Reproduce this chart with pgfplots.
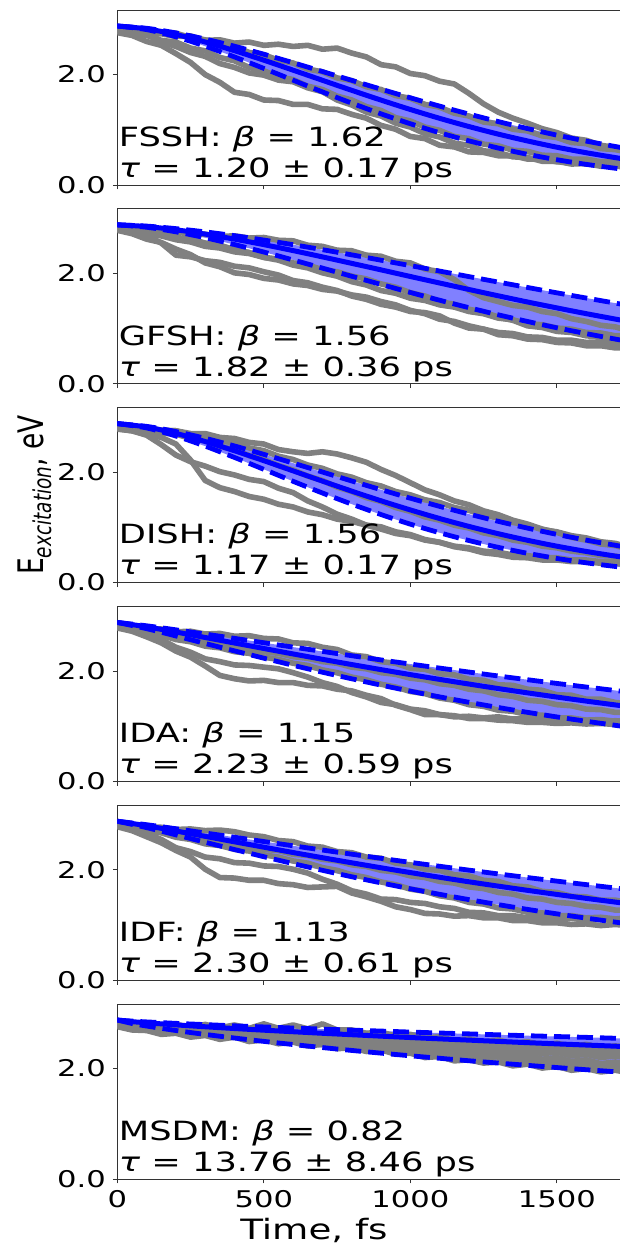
\documentclass[border=0pt]{standalone}
\usepackage{pgfplots}
\pgfplotsset{compat=1.18}
\usepackage{pgfplotstable}
\usepgfplotslibrary{fillbetween}
\usepackage{fontspec}
\setmainfont{DejaVu Sans}[FakeStretch=1.33]
\newfontfamily\ylabfont{DejaVu Sans}[FakeStretch=0.75]
\definecolor{bandfill}{HTML}{8080FF}
\definecolor{traj}{HTML}{808080}

\pgfplotstableread{
t lo mid hi
0 2.880 2.880 2.880
100 2.815 2.829 2.839
200 2.685 2.726 2.755
300 2.515 2.591 2.644
400 2.320 2.433 2.514
500 2.112 2.261 2.369
600 1.899 2.080 2.215
700 1.687 1.897 2.056
800 1.483 1.715 1.896
900 1.289 1.538 1.736
1000 1.110 1.368 1.580
1100 0.947 1.208 1.429
1200 0.800 1.059 1.285
1300 0.670 0.922 1.149
1400 0.556 0.798 1.022
1500 0.458 0.685 0.904
1600 0.374 0.585 0.796
1700 0.303 0.496 0.697
1720 0.290 0.480 0.678
}\fitA

\pgfplotstableread{
t lo mid hi
0 2.880 2.880 2.880
100 2.836 2.849 2.857
200 2.753 2.790 2.811
300 2.646 2.712 2.752
400 2.522 2.621 2.683
500 2.387 2.521 2.604
600 2.243 2.413 2.520
700 2.096 2.299 2.430
800 1.948 2.182 2.336
900 1.800 2.064 2.239
1000 1.655 1.944 2.141
1100 1.514 1.826 2.042
1200 1.379 1.709 1.942
1300 1.250 1.594 1.843
1400 1.129 1.482 1.745
1500 1.015 1.375 1.648
1600 0.909 1.271 1.554
1700 0.810 1.172 1.461
1720 0.792 1.153 1.443
}\fitB

\pgfplotstableread{
t lo mid hi
0 2.880 2.880 2.880
100 2.802 2.819 2.830
200 2.655 2.703 2.736
300 2.472 2.555 2.614
400 2.267 2.388 2.475
500 2.052 2.209 2.323
600 1.835 2.024 2.165
700 1.623 1.839 2.003
800 1.422 1.657 1.841
900 1.233 1.482 1.683
1000 1.059 1.317 1.529
1100 0.903 1.161 1.381
1200 0.762 1.018 1.241
1300 0.639 0.886 1.110
1400 0.531 0.767 0.987
1500 0.438 0.660 0.874
1600 0.359 0.565 0.770
1700 0.292 0.480 0.676
1720 0.280 0.465 0.658
}\fitC

\pgfplotstableread{
t lo mid hi
0 2.880 2.880 2.880
100 2.767 2.800 2.819
200 2.635 2.706 2.746
300 2.499 2.607 2.669
400 2.364 2.507 2.591
500 2.232 2.408 2.512
600 2.103 2.309 2.433
700 1.978 2.212 2.355
800 1.859 2.117 2.277
900 1.744 2.025 2.201
1000 1.635 1.935 2.126
1100 1.531 1.848 2.053
1200 1.433 1.764 1.981
1300 1.339 1.682 1.910
1400 1.251 1.604 1.842
1500 1.168 1.528 1.775
1600 1.090 1.455 1.710
1700 1.016 1.385 1.647
1720 1.001 1.372 1.635
}\fitD

\pgfplotstableread{
t lo mid hi
0 2.880 2.880 2.880
100 2.764 2.798 2.817
200 2.633 2.703 2.744
300 2.499 2.606 2.667
400 2.367 2.507 2.590
500 2.237 2.410 2.512
600 2.112 2.313 2.435
700 1.991 2.219 2.358
800 1.874 2.127 2.283
900 1.763 2.037 2.208
1000 1.657 1.950 2.135
1100 1.556 1.865 2.064
1200 1.460 1.783 1.994
1300 1.369 1.704 1.926
1400 1.283 1.628 1.860
1500 1.202 1.554 1.795
1600 1.125 1.483 1.732
1700 1.052 1.415 1.670
1720 1.038 1.402 1.658
}\fitE

\pgfplotstableread{
t lo mid hi
0 2.880 2.880 2.880
50 2.818 2.851 2.861
100 2.771 2.830 2.846
200 2.690 2.792 2.820
300 2.619 2.758 2.797
400 2.554 2.726 2.775
500 2.493 2.696 2.755
600 2.436 2.668 2.735
700 2.381 2.640 2.716
800 2.329 2.614 2.697
900 2.280 2.588 2.680
1000 2.232 2.563 2.662
1100 2.187 2.539 2.645
1200 2.142 2.516 2.629
1300 2.100 2.493 2.612
1400 2.059 2.470 2.596
1500 2.019 2.448 2.581
1600 1.980 2.427 2.566
1700 1.943 2.406 2.550
1720 1.936 2.401 2.547
}\fitF

\pgfplotsset{
  panel/.style={
    scale only axis, width=252pt, height=87.5pt,
    xmin=0, xmax=1720, ymin=0, ymax=3.17,
    xtick={0,500,1000,1500}, ytick={0,2}, yticklabels={0.0,2.0},
    tick align=outside, xtick pos=left, ytick pos=left,
    major tick length=2.2pt,
    tick style={black!80, line width=0.5pt},
    axis line style={black!80, line width=0.5pt},
    tick label style={font=\fontsize{11.5}{13}\selectfont},
    /pgf/number format/assume math mode=true,
    clip mode=individual,
    anchor=north west,
  },
  trajs/.style={color=traj, line width=2.8pt, line join=round},
  fitdash/.style={blue, line width=2.4pt, dash pattern=on 8pt off 3.5pt, smooth},
  fitmid/.style={blue, line width=2.5pt, smooth},
}
\tikzset{
  annot/.style={anchor=base west, inner sep=0pt, font=\fontsize{13.25}{15}\selectfont},
}

\begin{document}
\begin{tikzpicture}

% ---------------- Panel 1: FSSH
\begin{axis}[panel, at={(0pt,0pt)}, xticklabels={}]
\addplot[draw=none, smooth, name path=loA] table[x=t,y=lo]{\fitA};
\addplot[draw=none, smooth, name path=hiA] table[x=t,y=hi]{\fitA};
\addplot[bandfill, draw=none] fill between[of=loA and hiA];
\addplot[trajs] coordinates {(0,2.78)(50,2.77)(100,2.72)(150,2.74)(200,2.69)(250,2.70)(300,2.62)(350,2.63)(400,2.57)(450,2.59)(500,2.53)(550,2.55)(600,2.51)(650,2.53)(700,2.46)(750,2.48)(800,2.39)(850,2.32)(900,2.18)(950,2.14)(1000,2.02)(1050,1.98)(1100,1.88)(1150,1.83)(1200,1.66)(1250,1.47)(1300,1.32)(1350,1.21)(1400,1.12)(1450,1.02)(1500,0.95)(1550,0.85)(1600,0.81)(1650,0.72)(1700,0.68)(1720,0.66)};
\addplot[trajs] coordinates {(0,2.76)(50,2.71)(100,2.60)(150,2.53)(200,2.38)(250,2.22)(300,2.00)(350,1.86)(400,1.68)(450,1.64)(500,1.54)(550,1.53)(600,1.46)(650,1.46)(700,1.38)(750,1.37)(800,1.28)(850,1.21)(900,1.08)(950,1.01)(1000,0.88)(1050,0.84)(1100,0.72)(1150,0.69)(1200,0.60)(1250,0.59)(1300,0.53)(1350,0.53)(1400,0.47)(1450,0.47)(1500,0.42)(1550,0.43)(1600,0.38)(1650,0.39)(1700,0.35)(1720,0.35)};
\addplot[trajs] coordinates {(0,2.80)(50,2.76)(100,2.73)(150,2.60)(200,2.51)(250,2.40)(300,2.33)(350,2.20)(400,2.13)(450,2.03)(500,1.99)(550,1.90)(600,1.87)(650,1.76)(700,1.69)(750,1.54)(800,1.45)(850,1.32)(900,1.25)(950,1.12)(1000,1.05)(1050,0.93)(1100,0.87)(1150,0.76)(1200,0.72)(1250,0.62)(1300,0.59)(1350,0.51)(1400,0.50)(1450,0.43)(1500,0.43)(1550,0.38)(1600,0.39)(1650,0.34)(1700,0.35)(1720,0.33)};
\addplot[trajs] coordinates {(0,2.82)(50,2.80)(100,2.81)(150,2.75)(200,2.75)(250,2.67)(300,2.63)(350,2.54)(400,2.51)(450,2.40)(500,2.36)(550,2.26)(600,2.21)(650,2.10)(700,2.05)(750,1.94)(800,1.89)(850,1.78)(900,1.73)(950,1.62)(1000,1.57)(1050,1.46)(1100,1.41)(1150,1.30)(1200,1.25)(1250,1.14)(1300,1.11)(1350,1.01)(1400,0.98)(1450,0.89)(1500,0.86)(1550,0.77)(1600,0.75)(1650,0.66)(1700,0.64)(1720,0.62)};
\addplot[trajs] coordinates {(0,2.79)(50,2.75)(100,2.71)(150,2.62)(200,2.59)(250,2.48)(300,2.43)(350,2.31)(400,2.25)(450,2.13)(500,2.07)(550,1.96)(600,1.91)(650,1.79)(700,1.73)(750,1.61)(800,1.54)(850,1.42)(900,1.35)(950,1.22)(1000,1.16)(1050,1.05)(1100,0.99)(1150,0.88)(1200,0.84)(1250,0.74)(1300,0.71)(1350,0.63)(1400,0.61)(1450,0.54)(1500,0.53)(1550,0.47)(1600,0.47)(1650,0.42)(1700,0.43)(1720,0.41)};
\addplot[fitdash] table[x=t,y=lo]{\fitA};
\addplot[fitdash] table[x=t,y=hi]{\fitA};
\addplot[fitmid] table[x=t,y=mid]{\fitA};
\node[annot] at (axis cs:4,0.70) {FSSH: \textit{β} = 1.62};
\node[annot] at (axis cs:4,0.14) {\textit{τ} = 1.20 ± 0.17 ps};
\end{axis}

% ---------------- Panel 2: GFSH
\begin{axis}[panel, at={(0pt,-99.4pt)}, xticklabels={}]
\addplot[draw=none, smooth, name path=loB] table[x=t,y=lo]{\fitB};
\addplot[draw=none, smooth, name path=hiB] table[x=t,y=hi]{\fitB};
\addplot[bandfill, draw=none] fill between[of=loB and hiB];
\addplot[trajs] coordinates {(0,2.80)(50,2.77)(100,2.78)(150,2.74)(200,2.75)(250,2.71)(300,2.71)(350,2.67)(400,2.68)(450,2.64)(500,2.65)(550,2.60)(600,2.59)(650,2.51)(700,2.49)(750,2.42)(800,2.41)(850,2.33)(900,2.31)(950,2.22)(1000,2.19)(1050,2.08)(1100,2.03)(1150,1.89)(1200,1.69)(1250,1.56)(1300,1.49)(1350,1.42)(1400,1.39)(1450,1.31)(1500,1.27)(1550,1.18)(1600,1.13)(1650,1.06)(1700,1.03)(1720,1.00)};
\addplot[trajs] coordinates {(0,2.79)(50,2.77)(100,2.71)(150,2.68)(200,2.61)(250,2.57)(300,2.49)(350,2.46)(400,2.39)(450,2.36)(500,2.29)(550,2.26)(600,2.19)(650,2.15)(700,2.07)(750,2.03)(800,1.95)(850,1.90)(900,1.81)(950,1.75)(1000,1.65)(1050,1.59)(1100,1.49)(1150,1.44)(1200,1.35)(1250,1.30)(1300,1.21)(1350,1.15)(1400,1.05)(1450,1.02)(1500,0.95)(1550,0.93)(1600,0.87)(1650,0.85)(1700,0.79)(1720,0.78)};
\addplot[trajs] coordinates {(0,2.78)(50,2.72)(100,2.62)(150,2.56)(200,2.44)(250,2.34)(300,2.19)(350,2.12)(400,2.01)(450,1.98)(500,1.91)(550,1.88)(600,1.81)(650,1.78)(700,1.71)(750,1.68)(800,1.61)(850,1.57)(900,1.49)(950,1.43)(1000,1.33)(1050,1.27)(1100,1.17)(1150,1.13)(1200,1.05)(1250,0.99)(1300,0.89)(1350,0.87)(1400,0.81)(1450,0.80)(1500,0.75)(1550,0.74)(1600,0.69)(1650,0.69)(1700,0.65)(1720,0.65)};
\addplot[trajs] coordinates {(0,2.80)(50,2.76)(100,2.69)(150,2.55)(200,2.33)(250,2.30)(300,2.23)(350,2.20)(400,2.13)(450,2.10)(500,2.03)(550,1.97)(600,1.87)(650,1.83)(700,1.75)(750,1.69)(800,1.59)(850,1.53)(900,1.44)(950,1.39)(1000,1.31)(1050,1.29)(1100,1.23)(1150,1.10)(1200,1.01)(1250,0.99)(1300,0.93)(1350,0.91)(1400,0.85)(1450,0.84)(1500,0.79)(1550,0.79)(1600,0.75)(1650,0.76)(1700,0.73)(1720,0.73)};
\addplot[trajs] coordinates {(0,2.80)(50,2.78)(100,2.73)(150,2.71)(200,2.65)(250,2.62)(300,2.55)(350,2.51)(400,2.43)(450,2.38)(500,2.29)(550,2.24)(600,2.15)(650,2.10)(700,2.01)(750,1.95)(800,1.85)(850,1.79)(900,1.69)(950,1.64)(1000,1.55)(1050,1.51)(1100,1.43)(1150,1.39)(1200,1.31)(1250,1.27)(1300,1.19)(1350,1.16)(1400,1.09)(1450,1.07)(1500,1.01)(1550,0.99)(1600,0.93)(1650,0.92)(1700,0.87)(1720,0.87)};
\addplot[fitdash] table[x=t,y=lo]{\fitB};
\addplot[fitdash] table[x=t,y=hi]{\fitB};
\addplot[fitmid] table[x=t,y=mid]{\fitB};
\node[annot] at (axis cs:4,0.70) {GFSH: \textit{β} = 1.56};
\node[annot] at (axis cs:4,0.14) {\textit{τ} = 1.82 ± 0.36 ps};
\end{axis}

% ---------------- Panel 3: DISH
\begin{axis}[panel, at={(0pt,-198.8pt)}, xticklabels={}]
\addplot[draw=none, smooth, name path=loC] table[x=t,y=lo]{\fitC};
\addplot[draw=none, smooth, name path=hiC] table[x=t,y=hi]{\fitC};
\addplot[bandfill, draw=none] fill between[of=loC and hiC];
\addplot[trajs] coordinates {(0,2.80)(50,2.78)(100,2.79)(150,2.75)(200,2.75)(250,2.70)(300,2.70)(350,2.63)(400,2.61)(450,2.54)(500,2.51)(550,2.41)(600,2.37)(650,2.34)(700,2.37)(750,2.33)(800,2.26)(850,2.18)(900,2.05)(950,1.94)(1000,1.81)(1050,1.68)(1100,1.59)(1150,1.48)(1200,1.41)(1250,1.30)(1300,1.23)(1350,1.13)(1400,1.06)(1450,0.97)(1500,0.91)(1550,0.82)(1600,0.77)(1650,0.70)(1700,0.67)(1720,0.64)};
\addplot[trajs] coordinates {(0,2.78)(50,2.75)(100,2.69)(150,2.63)(200,2.51)(250,2.22)(300,1.85)(350,1.72)(400,1.65)(450,1.56)(500,1.51)(550,1.42)(600,1.37)(650,1.28)(700,1.23)(750,1.15)(800,1.11)(850,1.04)(900,1.01)(950,0.92)(1000,0.87)(1050,0.78)(1100,0.73)(1150,0.65)(1200,0.61)(1250,0.54)(1300,0.51)(1350,0.46)(1400,0.45)(1450,0.41)(1500,0.41)(1550,0.38)(1600,0.38)(1650,0.35)(1700,0.35)(1720,0.34)};
\addplot[trajs] coordinates {(0,2.79)(50,2.75)(100,2.67)(150,2.50)(200,2.31)(250,2.19)(300,2.11)(350,2.01)(400,1.95)(450,1.87)(500,1.83)(550,1.71)(600,1.63)(650,1.48)(700,1.37)(750,1.24)(800,1.15)(850,1.04)(900,0.97)(950,0.89)(1000,0.85)(1050,0.77)(1100,0.73)(1150,0.66)(1200,0.63)(1250,0.57)(1300,0.55)(1350,0.50)(1400,0.49)(1450,0.45)(1500,0.45)(1550,0.41)(1600,0.41)(1650,0.38)(1700,0.38)(1720,0.37)};
\addplot[trajs] coordinates {(0,2.82)(50,2.80)(100,2.81)(150,2.76)(200,2.75)(250,2.68)(300,2.65)(350,2.57)(400,2.53)(450,2.44)(500,2.39)(550,2.29)(600,2.23)(650,2.13)(700,2.07)(750,1.97)(800,1.91)(850,1.81)(900,1.75)(950,1.65)(1000,1.59)(1050,1.50)(1100,1.45)(1150,1.36)(1200,1.31)(1250,1.22)(1300,1.17)(1350,1.09)(1400,1.04)(1450,0.96)(1500,0.92)(1550,0.85)(1600,0.81)(1650,0.74)(1700,0.71)(1720,0.68)};
\addplot[trajs] coordinates {(0,2.80)(50,2.77)(100,2.77)(150,2.71)(200,2.69)(250,2.61)(300,2.57)(350,2.47)(400,2.41)(450,2.30)(500,2.23)(550,2.12)(600,2.04)(650,1.93)(700,1.85)(750,1.73)(800,1.65)(850,1.54)(900,1.47)(950,1.36)(1000,1.29)(1050,1.19)(1100,1.13)(1150,1.04)(1200,0.99)(1250,0.90)(1300,0.85)(1350,0.77)(1400,0.73)(1450,0.66)(1500,0.63)(1550,0.57)(1600,0.54)(1650,0.49)(1700,0.48)(1720,0.46)};
\addplot[fitdash] table[x=t,y=lo]{\fitC};
\addplot[fitdash] table[x=t,y=hi]{\fitC};
\addplot[fitmid] table[x=t,y=mid]{\fitC};
\node[annot] at (axis cs:4,0.70) {DISH: \textit{β} = 1.56};
\node[annot] at (axis cs:4,0.14) {\textit{τ} = 1.17 ± 0.17 ps};
\node[rotate=90, anchor=base, inner sep=0pt] at ([xshift=-37pt]rel axis cs:0,0.5)
  {\ylabfont\fontsize{17.6}{20}\selectfont E\raisebox{-0.22em}{\fontsize{12.3}{14}\selectfont\itshape excitation}, eV};
\end{axis}

% ---------------- Panel 4: IDA
\begin{axis}[panel, at={(0pt,-298.2pt)}, xticklabels={}]
\addplot[draw=none, smooth, name path=loD] table[x=t,y=lo]{\fitD};
\addplot[draw=none, smooth, name path=hiD] table[x=t,y=hi]{\fitD};
\addplot[bandfill, draw=none] fill between[of=loD and hiD];
\addplot[trajs] coordinates {(0,2.80)(50,2.79)(100,2.76)(150,2.76)(200,2.71)(250,2.72)(300,2.67)(350,2.68)(400,2.63)(450,2.64)(500,2.59)(550,2.58)(600,2.51)(650,2.50)(700,2.43)(750,2.39)(800,2.29)(850,2.26)(900,2.17)(950,2.14)(1000,2.05)(1050,2.03)(1100,1.95)(1150,1.93)(1200,1.85)(1250,1.83)(1300,1.75)(1350,1.74)(1400,1.67)(1450,1.65)(1500,1.57)(1550,1.56)(1600,1.49)(1650,1.49)(1700,1.43)(1720,1.42)};
\addplot[trajs] coordinates {(0,2.78)(50,2.72)(100,2.62)(150,2.51)(200,2.36)(250,2.25)(300,2.09)(350,1.92)(400,1.86)(450,1.82)(500,1.83)(550,1.79)(600,1.79)(650,1.74)(700,1.73)(750,1.67)(800,1.64)(850,1.56)(900,1.50)(950,1.38)(1000,1.30)(1050,1.21)(1100,1.21)(1150,1.17)(1200,1.18)(1250,1.15)(1300,1.17)(1350,1.13)(1400,1.14)(1450,1.11)(1500,1.12)(1550,1.09)(1600,1.11)(1650,1.08)(1700,1.10)(1720,1.09)};
\addplot[trajs] coordinates {(0,2.79)(50,2.75)(100,2.67)(150,2.57)(200,2.43)(250,2.34)(300,2.22)(350,2.17)(400,2.11)(450,2.10)(500,2.07)(550,2.04)(600,1.97)(650,1.89)(700,1.79)(750,1.72)(800,1.61)(850,1.53)(900,1.43)(950,1.39)(1000,1.31)(1050,1.28)(1100,1.21)(1150,1.19)(1200,1.14)(1250,1.14)(1300,1.11)(1350,1.10)(1400,1.07)(1450,1.07)(1500,1.05)(1550,1.06)(1600,1.04)(1650,1.05)(1700,1.03)(1720,1.04)};
\addplot[trajs] coordinates {(0,2.80)(50,2.78)(100,2.73)(150,2.70)(200,2.63)(250,2.60)(300,2.53)(350,2.51)(400,2.44)(450,2.41)(500,2.35)(550,2.32)(600,2.26)(650,2.23)(700,2.17)(750,2.14)(800,2.07)(850,2.04)(900,1.97)(950,1.94)(1000,1.87)(1050,1.84)(1100,1.77)(1150,1.74)(1200,1.67)(1250,1.64)(1300,1.57)(1350,1.54)(1400,1.47)(1450,1.45)(1500,1.39)(1550,1.37)(1600,1.31)(1650,1.30)(1700,1.25)(1720,1.25)};
\addplot[trajs] coordinates {(0,2.79)(50,2.76)(100,2.69)(150,2.65)(200,2.57)(250,2.53)(300,2.45)(350,2.42)(400,2.35)(450,2.32)(500,2.25)(550,2.21)(600,2.14)(650,2.10)(700,2.02)(750,1.97)(800,1.89)(850,1.84)(900,1.76)(950,1.71)(1000,1.63)(1050,1.59)(1100,1.51)(1150,1.47)(1200,1.39)(1250,1.36)(1300,1.29)(1350,1.27)(1400,1.21)(1450,1.20)(1500,1.15)(1550,1.15)(1600,1.11)(1650,1.12)(1700,1.09)(1720,1.10)};
\addplot[fitdash] table[x=t,y=lo]{\fitD};
\addplot[fitdash] table[x=t,y=hi]{\fitD};
\addplot[fitmid] table[x=t,y=mid]{\fitD};
\node[annot] at (axis cs:4,0.70) {IDA: \textit{β} = 1.15};
\node[annot] at (axis cs:4,0.14) {\textit{τ} = 2.23 ± 0.59 ps};
\end{axis}

% ---------------- Panel 5: IDF
\begin{axis}[panel, at={(0pt,-397.6pt)}, xticklabels={}]
\addplot[draw=none, smooth, name path=loE] table[x=t,y=lo]{\fitE};
\addplot[draw=none, smooth, name path=hiE] table[x=t,y=hi]{\fitE};
\addplot[bandfill, draw=none] fill between[of=loE and hiE];
\addplot[trajs] coordinates {(0,2.80)(50,2.78)(100,2.77)(150,2.77)(200,2.73)(250,2.74)(300,2.71)(350,2.72)(400,2.69)(450,2.63)(500,2.60)(550,2.53)(600,2.51)(650,2.43)(700,2.41)(750,2.33)(800,2.31)(850,2.23)(900,2.21)(950,2.12)(1000,2.09)(1050,2.01)(1100,1.99)(1150,1.91)(1200,1.89)(1250,1.81)(1300,1.79)(1350,1.71)(1400,1.69)(1450,1.61)(1500,1.59)(1550,1.52)(1600,1.51)(1650,1.45)(1700,1.45)(1720,1.43)};
\addplot[trajs] coordinates {(0,2.78)(50,2.71)(100,2.60)(150,2.49)(200,2.35)(250,2.23)(300,2.01)(350,1.86)(400,1.85)(450,1.81)(500,1.81)(550,1.75)(600,1.73)(650,1.68)(700,1.69)(750,1.70)(800,1.58)(850,1.51)(900,1.43)(950,1.33)(1000,1.28)(1050,1.21)(1100,1.20)(1150,1.16)(1200,1.17)(1250,1.13)(1300,1.13)(1350,1.08)(1400,1.08)(1450,1.04)(1500,1.04)(1550,1.01)(1600,1.02)(1650,0.99)(1700,1.01)(1720,1.00)};
\addplot[trajs] coordinates {(0,2.79)(50,2.75)(100,2.66)(150,2.55)(200,2.40)(250,2.33)(300,2.23)(350,2.20)(400,2.13)(450,2.12)(500,2.07)(550,2.06)(600,2.01)(650,1.94)(700,1.83)(750,1.74)(800,1.62)(850,1.56)(900,1.47)(950,1.46)(1000,1.41)(1050,1.39)(1100,1.33)(1150,1.30)(1200,1.23)(1250,1.22)(1300,1.17)(1350,1.17)(1400,1.13)(1450,1.14)(1500,1.11)(1550,1.12)(1600,1.09)(1650,1.10)(1700,1.08)(1720,1.09)};
\addplot[trajs] coordinates {(0,2.80)(50,2.78)(100,2.73)(150,2.71)(200,2.64)(250,2.62)(300,2.55)(350,2.53)(400,2.46)(450,2.44)(500,2.37)(550,2.35)(600,2.28)(650,2.26)(700,2.19)(750,2.16)(800,2.09)(850,2.06)(900,1.99)(950,1.96)(1000,1.89)(1050,1.86)(1100,1.79)(1150,1.76)(1200,1.69)(1250,1.66)(1300,1.59)(1350,1.56)(1400,1.49)(1450,1.47)(1500,1.41)(1550,1.39)(1600,1.34)(1650,1.32)(1700,1.27)(1720,1.27)};
\addplot[trajs] coordinates {(0,2.79)(50,2.76)(100,2.70)(150,2.67)(200,2.59)(250,2.55)(300,2.47)(350,2.44)(400,2.37)(450,2.34)(500,2.27)(550,2.23)(600,2.16)(650,2.12)(700,2.04)(750,1.99)(800,1.91)(850,1.86)(900,1.78)(950,1.73)(1000,1.65)(1050,1.61)(1100,1.53)(1150,1.49)(1200,1.41)(1250,1.38)(1300,1.31)(1350,1.29)(1400,1.23)(1450,1.22)(1500,1.17)(1550,1.17)(1600,1.13)(1650,1.14)(1700,1.11)(1720,1.12)};
\addplot[fitdash] table[x=t,y=lo]{\fitE};
\addplot[fitdash] table[x=t,y=hi]{\fitE};
\addplot[fitmid] table[x=t,y=mid]{\fitE};
\node[annot] at (axis cs:4,0.70) {IDF: \textit{β} = 1.13};
\node[annot] at (axis cs:4,0.14) {\textit{τ} = 2.30 ± 0.61 ps};
\end{axis}

% ---------------- Panel 6: MSDM
\begin{axis}[panel, at={(0pt,-497pt)}, xticklabels={0,500,1000,1500}]
\addplot[draw=none, smooth, name path=loF] table[x=t,y=lo]{\fitF};
\addplot[draw=none, smooth, name path=hiF] table[x=t,y=hi]{\fitF};
\addplot[bandfill, draw=none] fill between[of=loF and hiF];
\addplot[trajs] coordinates {(0,2.82)(50,2.80)(100,2.82)(150,2.77)(200,2.80)(250,2.75)(300,2.80)(350,2.74)(400,2.79)(450,2.73)(500,2.81)(550,2.73)(600,2.79)(650,2.72)(700,2.81)(750,2.70)(800,2.70)(850,2.64)(900,2.66)(950,2.59)(1000,2.62)(1050,2.55)(1100,2.58)(1150,2.51)(1200,2.54)(1250,2.48)(1300,2.52)(1350,2.45)(1400,2.49)(1450,2.42)(1500,2.46)(1550,2.40)(1600,2.44)(1650,2.38)(1700,2.41)(1720,2.40)};
\addplot[trajs] coordinates {(0,2.81)(50,2.77)(100,2.79)(150,2.73)(200,2.76)(250,2.70)(300,2.74)(350,2.68)(400,2.72)(450,2.66)(500,2.70)(550,2.63)(600,2.67)(650,2.60)(700,2.64)(750,2.57)(800,2.61)(850,2.53)(900,2.57)(950,2.50)(1000,2.54)(1050,2.46)(1100,2.50)(1150,2.43)(1200,2.47)(1250,2.40)(1300,2.44)(1350,2.37)(1400,2.41)(1450,2.34)(1500,2.38)(1550,2.31)(1600,2.35)(1650,2.28)(1700,2.32)(1720,2.30)};
\addplot[trajs] coordinates {(0,2.80)(50,2.77)(100,2.78)(150,2.72)(200,2.75)(250,2.69)(300,2.73)(350,2.67)(400,2.71)(450,2.65)(500,2.68)(550,2.62)(600,2.65)(650,2.59)(700,2.62)(750,2.55)(800,2.58)(850,2.51)(900,2.54)(950,2.47)(1000,2.50)(1050,2.43)(1100,2.46)(1150,2.39)(1200,2.42)(1250,2.35)(1300,2.38)(1350,2.31)(1400,2.34)(1450,2.27)(1500,2.30)(1550,2.23)(1600,2.26)(1650,2.20)(1700,2.23)(1720,2.21)};
\addplot[trajs] coordinates {(0,2.78)(50,2.74)(100,2.74)(150,2.68)(200,2.70)(250,2.64)(300,2.67)(350,2.61)(400,2.64)(450,2.57)(500,2.60)(550,2.54)(600,2.57)(650,2.50)(700,2.54)(750,2.47)(800,2.50)(850,2.43)(900,2.46)(950,2.39)(1000,2.42)(1050,2.35)(1100,2.38)(1150,2.30)(1200,2.33)(1250,2.26)(1300,2.29)(1350,2.22)(1400,2.25)(1450,2.17)(1500,2.20)(1550,2.13)(1600,2.16)(1650,2.09)(1700,2.12)(1720,2.10)};
\addplot[trajs] coordinates {(0,2.77)(50,2.72)(100,2.71)(150,2.64)(200,2.66)(250,2.59)(300,2.62)(350,2.56)(400,2.60)(450,2.54)(500,2.57)(550,2.50)(600,2.53)(650,2.46)(700,2.49)(750,2.42)(800,2.45)(850,2.37)(900,2.40)(950,2.33)(1000,2.36)(1050,2.28)(1100,2.31)(1150,2.23)(1200,2.26)(1250,2.19)(1300,2.22)(1350,2.15)(1400,2.17)(1450,2.09)(1500,2.12)(1550,2.05)(1600,2.08)(1650,2.01)(1700,2.04)(1720,2.02)};
\addplot[trajs] coordinates {(0,2.76)(50,2.70)(100,2.69)(150,2.62)(200,2.64)(250,2.57)(300,2.60)(350,2.53)(400,2.57)(450,2.49)(500,2.52)(550,2.45)(600,2.48)(650,2.41)(700,2.44)(750,2.36)(800,2.38)(850,2.31)(900,2.34)(950,2.26)(1000,2.28)(1050,2.20)(1100,2.22)(1150,2.14)(1200,2.16)(1250,2.10)(1300,2.12)(1350,2.05)(1400,2.08)(1450,2.01)(1500,2.04)(1550,1.97)(1600,2.00)(1650,1.94)(1700,1.97)(1720,1.95)};
\addplot[fitdash] table[x=t,y=lo]{\fitF};
\addplot[fitdash] table[x=t,y=hi]{\fitF};
\addplot[fitmid] table[x=t,y=mid]{\fitF};
\node[annot] at (axis cs:4,0.70) {MSDM: \textit{β} = 0.82};
\node[annot] at (axis cs:4,0.14) {\textit{τ} = 13.76 ± 8.46 ps};
\node[anchor=base, inner sep=0pt, font=\fontsize{14}{16}\selectfont] at ([yshift=-30pt]axis cs:671,0) {Time, fs};
\end{axis}

\pgfresetboundingbox
\path[use as bounding box] (-58.65pt,5pt) rectangle (251.35pt,-617pt);
\end{tikzpicture}
\end{document}
